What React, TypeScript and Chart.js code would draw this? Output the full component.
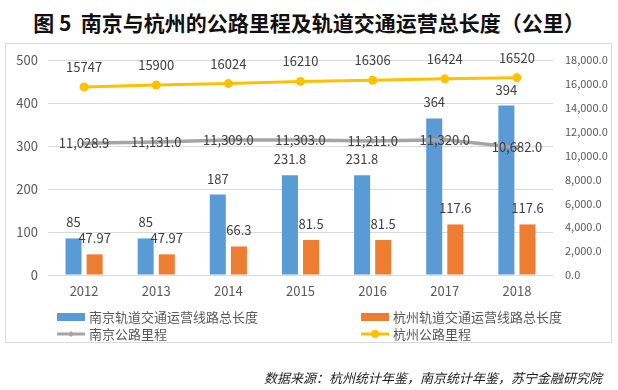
import React, { useEffect, useRef } from "react";
import { Chart, registerables } from "chart.js";

Chart.register(...registerables);

const years = ["2012", "2013", "2014", "2015", "2016", "2017", "2018"];
const njRail = [85, 85, 187, 231.8, 231.8, 364, 394];
const hzRail = [47.97, 47.97, 66.3, 81.5, 81.5, 117.6, 117.6];
const njRoad = [11028.9, 11131.0, 11309.0, 11303.0, 11211.0, 11320.0, 10682.0];
const hzRoad = [15747, 15900, 16024, 16210, 16306, 16424, 16520];
const seriesNames = [
  "南京轨道交通运营线路总长度",
  "杭州轨道交通运营线路总长度",
  "南京公路里程",
  "杭州公路里程",
];
const leftMax = 500;
const leftStep = 100;
const rightMax = 18000;
const rightStep = 2000;

const FONT = '"Noto Sans CJK SC", "Noto Sans", sans-serif';
const BLUE = "#5B9BD5";
const ORANGE = "#ED7D31";
const GRAY = "#A5A5A5";
const YELLOW = "#FFC000";

const fmt1 = (v: number) =>
  v.toLocaleString("en-US", { minimumFractionDigits: 1, maximumFractionDigits: 1 });

const labelPlugin = {
  id: "valueLabels",
  afterDatasetsDraw(chart: any) {
    const ctx = chart.ctx;
    ctx.save();
    ctx.font = `13px ${FONT}`;
    ctx.fillStyle = "#404040";
    ctx.textAlign = "center";
    ctx.textBaseline = "middle";
    chart.data.datasets.forEach((ds: any, i: number) => {
      const meta = chart.getDatasetMeta(i);
      meta.data.forEach((el: any, j: number) => {
        const v = ds.data[j];
        if (i === 0 || i === 1) {
          ctx.fillText(String(v), el.x, el.y - 16);
        } else if (i === 2) {
          ctx.fillText(fmt1(v), el.x, el.y);
        } else {
          ctx.fillText(String(v), el.x, el.y - 20);
        }
      });
    });
    ctx.restore();
  },
};

const legendPlugin = {
  id: "customLegend",
  afterDraw(chart: any) {
    const ctx = chart.ctx;
    ctx.save();
    ctx.font = `13px ${FONT}`;
    ctx.fillStyle = "#595959";
    ctx.textBaseline = "middle";
    ctx.textAlign = "left";
    const cols = [57, 361];
    const rows = [317, 334];
    const w = 28;
    const barColors = [BLUE, ORANGE];
    for (let k = 0; k < 2; k++) {
      ctx.fillStyle = barColors[k];
      ctx.fillRect(cols[k], rows[0] - 4, w, 8);
      ctx.fillStyle = "#595959";
      ctx.fillText(seriesNames[k], cols[k] + w + 4, rows[0]);
    }
    const lineColors = [GRAY, YELLOW];
    for (let k = 0; k < 2; k++) {
      const x0 = cols[k];
      const y = rows[1];
      ctx.strokeStyle = lineColors[k];
      ctx.lineWidth = 3;
      ctx.beginPath();
      ctx.moveTo(x0, y);
      ctx.lineTo(x0 + w, y);
      ctx.stroke();
      ctx.fillStyle = lineColors[k];
      const cx = x0 + w / 2;
      ctx.beginPath();
      if (k === 0) {
        ctx.moveTo(cx, y - 3);
        ctx.lineTo(cx + 3, y);
        ctx.lineTo(cx, y + 3);
        ctx.lineTo(cx - 3, y);
        ctx.closePath();
      } else {
        ctx.arc(cx, y, 4, 0, Math.PI * 2);
      }
      ctx.fill();
      ctx.fillStyle = "#595959";
      ctx.fillText(seriesNames[k + 2], x0 + w + 4, y);
    }
    ctx.restore();
  },
};

export default function App() {
  const ref = useRef<HTMLCanvasElement | null>(null);
  useEffect(() => {
    if (!ref.current) return;
    const chart = new Chart(ref.current, {
      type: "bar",
      data: {
        labels: years,
        datasets: [
          {
            type: "bar",
            label: seriesNames[0],
            data: njRail,
            backgroundColor: BLUE,
            yAxisID: "y",
            order: 2,
            barPercentage: 0.76,
            categoryPercentage: 0.585,
          },
          {
            type: "bar",
            label: seriesNames[1],
            data: hzRail,
            backgroundColor: ORANGE,
            yAxisID: "y",
            order: 2,
            barPercentage: 0.76,
            categoryPercentage: 0.585,
          },
          {
            type: "line",
            label: seriesNames[2],
            data: njRoad,
            borderColor: GRAY,
            backgroundColor: GRAY,
            borderWidth: 3.5,
            pointStyle: "rectRot",
            pointRadius: 3,
            pointBorderWidth: 0,
            yAxisID: "y1",
            order: 1,
            tension: 0,
          },
          {
            type: "line",
            label: seriesNames[3],
            data: hzRoad,
            borderColor: YELLOW,
            backgroundColor: YELLOW,
            borderWidth: 3,
            pointStyle: "circle",
            pointRadius: 4.5,
            pointBorderWidth: 0,
            yAxisID: "y1",
            order: 0,
            tension: 0,
          },
        ] as any,
      },
      options: {
        animation: false,
        responsive: false,
        layout: { padding: { left: 0, right: 0, top: 60, bottom: 85 } },
        plugins: {
          legend: { display: false },
          tooltip: { enabled: false },
        },
        scales: {
          x: {
            grid: { display: false, drawTicks: false },
            border: { display: false },
            ticks: { color: "#595959", font: { family: FONT, size: 13 }, padding: 8 },
            afterFit: (s: any) => {
              s.height = 30;
            },
          },
          y: {
            position: "left",
            min: 0,
            max: leftMax,
            ticks: {
              stepSize: leftStep,
              color: "#595959",
              font: { family: FONT, size: 13 },
              padding: 10,
            },
            grid: { color: "#D9D9D9", drawTicks: false, lineWidth: 1 },
            border: { display: false },
            afterFit: (s: any) => {
              s.width = 48;
            },
          },
          y1: {
            position: "right",
            min: 0,
            max: rightMax,
            ticks: {
              stepSize: rightStep,
              color: "#595959",
              font: { family: FONT, size: 11 },
              padding: 12,
              callback: (v: any) => fmt1(Number(v)),
            },
            grid: { display: false, drawTicks: false },
            border: { display: false },
            afterFit: (s: any) => {
              s.width = 65;
            },
          },
        },
      } as any,
      plugins: [labelPlugin, legendPlugin],
    });
    return () => chart.destroy();
  }, []);

  return (
    <div
      style={{
        position: "absolute",
        left: 0,
        top: 0,
        width: 618,
        height: 390,
        background: "#fff",
        fontFamily: FONT,
      }}
    >
      <div
        style={{
          position: "absolute",
          left: 0,
          top: 8,
          width: 618,
          textAlign: "center",
          fontSize: 21,
          fontWeight: "bold",
          color: "#111",
          lineHeight: "28px",
          whiteSpace: "pre",
        }}
      >
        {"图 5  南京与杭州的公路里程及轨道交通运营总长度（公里）"}
      </div>
      <div
        style={{
          position: "absolute",
          left: 5,
          top: 43,
          width: 607,
          height: 300,
          border: "1px solid #D9D9D9",
          boxSizing: "border-box",
        }}
      />
      <canvas
        ref={ref}
        width={618}
        height={390}
        style={{ position: "absolute", left: 0, top: 0, width: 618, height: 390 }}
      />
      <div
        style={{
          position: "absolute",
          right: 16,
          top: 369,
          fontSize: 13,
          fontStyle: "italic",
          color: "#222",
          lineHeight: "18px",
          whiteSpace: "nowrap",
        }}
      >
        数据来源：杭州统计年鉴，南京统计年鉴，苏宁金融研究院
      </div>
    </div>
  );
}
